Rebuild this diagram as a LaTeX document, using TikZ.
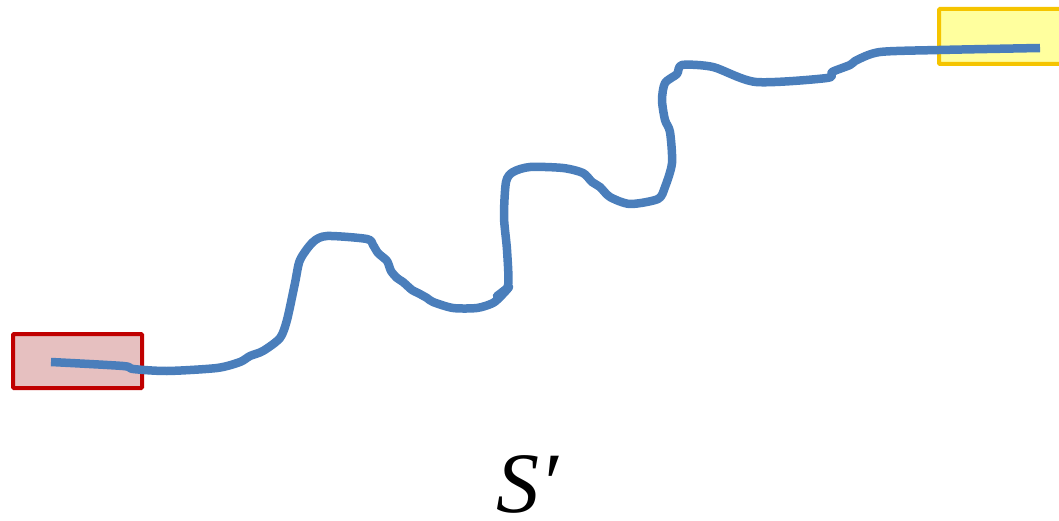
\documentclass[tikz,border=0pt]{standalone}
\usepackage{fontspec}
\newfontfamily\labelfont{Liberation Serif}
\usetikzlibrary{calc}
\definecolor{redline}{HTML}{C00000}
\definecolor{redfill}{HTML}{E6C0C0}
\definecolor{yelline}{HTML}{F5C400}
\definecolor{yelfill}{HTML}{FFFF9E}
\definecolor{pathblue}{HTML}{4A7EBB}
\tikzset{
  startbox/.style={draw=redline, fill=redfill, line width=4pt, rounded corners=1pt},
  endbox/.style={draw=yelline, fill=yelfill, line width=4pt, rounded corners=1pt},
  route/.style={draw=pathblue, line width=8.5pt, line cap=butt, line join=round}
}
\begin{document}
\begin{tikzpicture}[x=1pt,y=-1pt]
\useasboundingbox (0,0) rectangle (1059,521);
\node[startbox, minimum width=129pt, minimum height=54pt, inner sep=0pt] (src) at (77.5,361) {};
\node[endbox, minimum width=140pt, minimum height=55pt, inner sep=0pt] (dst) at (1009,36.5) {};
\coordinate (a) at (51,362);
\coordinate (b) at (1040,48);
\draw[route] plot[smooth, tension=0.45] coordinates {
 (51,362) (123,366) (133,369) (167,371) (217,368) (240,362) (250,356) (263,351)
 (280,338) (287,320) (295,283) (300,260) (313,242) (327,236) (367,239) (373,245)
 (378,253) (387,261) (391,271) (397,278) (403,282) (412,290) (418,293) (427,298)
 (433,302) (453,308) (477,308) (493,303) (502,295) (509,287) (497,296) (508,286)
 (507,250) (504,217) (506,182) (513,172) (530,167) (563,168) (583,173) (592,182)
 (600,187) (610,197) (630,204) (658,199) (665,187) (672,163) (670,132) (665,120)
 (662,100) (665,83) (677,74) (682,65) (713,67) (756,82) (827,78) (832,72)
 (850,65) (857,60) (880,52) (939,50) (1040,48)};
\node[anchor=base, inner sep=0pt, font=\labelfont\fontsize{86}{86}\selectfont] (lbl) at (527,512) {\itshape S′};
\end{tikzpicture}
\end{document}
